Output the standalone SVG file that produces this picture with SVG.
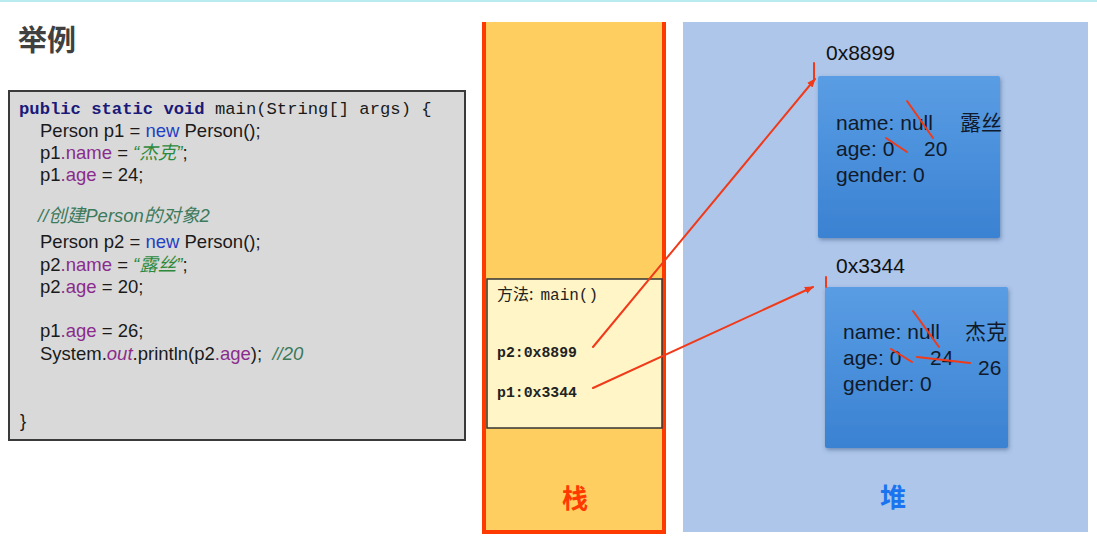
<svg xmlns="http://www.w3.org/2000/svg" width="1097" height="538" viewBox="0 0 1097 538">
<defs>
<style>
.sans{font-family:"Liberation Sans",Arial,sans-serif;}
.mono{font-family:"Liberation Mono","DejaVu Sans Mono",monospace;}
.code{font-family:"Liberation Sans",Arial,"Noto Sans CJK SC",sans-serif;font-size:18.5px;fill:#1a1a1a;}
.kw{fill:#1f3fc4;}
.fld{fill:#8a2c8c;}
.str{fill:#2d8a3c;font-style:italic;}
.cmt{fill:#3c7a5c;font-style:italic;}
.obj{font-family:"Liberation Sans",Arial,"Noto Sans CJK SC",sans-serif;font-size:21px;fill:#111a2a;}
.addr{font-family:"Liberation Sans",Arial,sans-serif;font-size:21px;fill:#111;}
.red{stroke:#f03a1a;stroke-width:2;fill:none;stroke-linecap:round;}
</style>
<linearGradient id="objg" x1="0" y1="0" x2="0" y2="1">
<stop offset="0" stop-color="#5a9de4"/>
<stop offset="1" stop-color="#3a82d2"/>
</linearGradient>
<filter id="sh" x="-10%" y="-10%" width="125%" height="125%">
<feDropShadow dx="1" dy="2" stdDeviation="2" flood-color="#30507a" flood-opacity="0.5"/>
</filter>
<marker id="ah" viewBox="0 0 10 10" refX="9" refY="5" markerWidth="9" markerHeight="9" markerUnits="userSpaceOnUse" orient="auto">
<path d="M0,1 L10,5 L0,9 Z" fill="#f03a1a"/>
</marker>
</defs>
<rect x="0" y="0" width="1097" height="538" fill="#ffffff"/>
<rect x="0" y="0" width="1097" height="2" fill="#b8ecf0"/>
<text x="18" y="51" font-family="'Noto Sans CJK SC',sans-serif" font-size="29" font-weight="bold" fill="#404040">举例</text>

<g id="code">
<rect x="9" y="91" width="456" height="349" fill="#d9d9d9" stroke="#3a3a3a" stroke-width="2"/>
<text class="mono" x="19" y="114" font-size="17.2"><tspan font-weight="bold" fill="#1a1a7a">public static void</tspan><tspan fill="#1a1a1a"> main(String[] args) {</tspan></text>
<text class="code" x="40" y="137">Person p1 = <tspan class="kw">new</tspan> Person();</text>
<text class="code" x="40" y="159">p1<tspan class="fld">.name</tspan> = <tspan class="str">“杰克”</tspan>;</text>
<text class="code" x="40" y="181">p1<tspan class="fld">.age</tspan> = 24;</text>
<text class="code cmt" x="38" y="222">//创建Person的对象2</text>
<text class="code" x="40" y="248">Person p2 = <tspan class="kw">new</tspan> Person();</text>
<text class="code" x="40" y="271">p2<tspan class="fld">.name</tspan> = <tspan class="str">“露丝”</tspan>;</text>
<text class="code" x="40" y="293">p2<tspan class="fld">.age</tspan> = 20;</text>
<text class="code" x="40" y="337">p1<tspan class="fld">.age</tspan> = 26;</text>
<text class="code" x="40" y="360" xml:space="preserve">System.<tspan class="fld" font-style="italic">out</tspan>.println(p2<tspan class="fld">.age</tspan>);  <tspan class="cmt">//20</tspan></text>
<text class="code" x="20" y="427">}</text>
</g>

<g id="stack">
<rect x="482" y="22" width="184" height="512" fill="#fecf60"/>
<path d="M484,22 L484,532 L664,532 L664,22" fill="none" stroke="#ff3a00" stroke-width="4"/>
<text x="575" y="508" text-anchor="middle" font-family="'Noto Sans CJK SC',sans-serif" font-size="26" font-weight="bold" fill="#ff3a00">栈</text>
</g>

<g id="frame">
<rect x="487" y="279" width="175" height="149" fill="#fff5c6" stroke="#333" stroke-width="1.5"/>
<text x="497" y="300" font-family="'Noto Sans CJK SC','Liberation Mono',monospace" font-size="16" fill="#222">方法:<tspan class="mono" dx="7">main()</tspan></text>
<text class="mono" x="497" y="357" font-size="14.8" font-weight="bold" fill="#222">p2:0x8899</text>
<text class="mono" x="497" y="397" font-size="14.8" font-weight="bold" fill="#222">p1:0x3344</text>
</g>

<g id="heap">
<rect x="683" y="22" width="405" height="510" fill="#aec6ea"/>
<text x="893" y="507" text-anchor="middle" font-family="'Noto Sans CJK SC',sans-serif" font-size="26" font-weight="bold" fill="#1a74f0">堆</text>
</g>

<g id="obj1">
<text class="addr" x="826" y="60">0x8899</text>
<rect x="818" y="76" width="182" height="162" rx="2" fill="url(#objg)" filter="url(#sh)"/>
<text class="obj" x="836" y="130">name: null</text>
<text class="obj" x="960" y="130">露丝</text>
<text class="obj" x="836" y="156">age: 0</text>
<text class="obj" x="924" y="156">20</text>
<text class="obj" x="836" y="182">gender: 0</text>
</g>

<g id="obj2">
<text class="addr" x="836" y="273">0x3344</text>
<rect x="825" y="287" width="183" height="161" rx="2" fill="url(#objg)" filter="url(#sh)"/>
<text class="obj" x="843" y="339">name: null</text>
<text class="obj" x="965" y="339">杰克</text>
<text class="obj" x="843" y="365">age: 0</text>
<text class="obj" x="930" y="365">24</text>
<text class="obj" x="978" y="375">26</text>
<text class="obj" x="843" y="391">gender: 0</text>
</g>

<g id="connectors">
<line class="red" x1="593" y1="347" x2="815" y2="79" marker-end="url(#ah)"/>
<line class="red" x1="593" y1="388" x2="813" y2="287" marker-end="url(#ah)"/>
<line class="red" x1="814" y1="63" x2="814" y2="80"/>
<line class="red" x1="826" y1="277" x2="826" y2="287"/>
<line class="red" x1="907" y1="101" x2="933" y2="138"/>
<line class="red" x1="886" y1="138" x2="907" y2="152"/>
<line class="red" x1="913" y1="311" x2="939" y2="347"/>
<line class="red" x1="891" y1="349" x2="912" y2="362"/>
<line class="red" x1="917" y1="357" x2="970" y2="363"/>
</g>
</svg>
